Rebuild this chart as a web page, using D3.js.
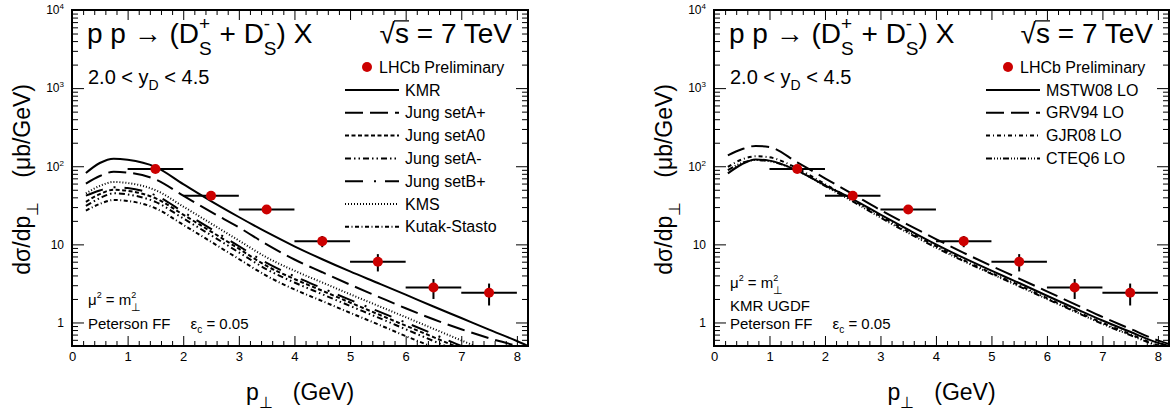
<!DOCTYPE html>
<html>
<head>
<meta charset="utf-8">
<title>Ds meson pT spectra</title>
<style>
  body { margin: 0; background: #fff; }
  svg text { font-family: "Liberation Sans", Arial, Helvetica, sans-serif; fill: #000; white-space: pre; }
  .frame { fill: none; stroke: #000; stroke-width: 2; }
  .axis path { display: none; }
  .axis line { stroke: #000; stroke-width: 1; }
  .axis text { font-size: 13px; }
  .curve { fill: none; stroke: #000; stroke-width: 2; }
</style>
</head>
<body>
<svg id="canvas" width="1176" height="417"></svg>
<script src="https://cdn.jsdelivr.net/npm/d3@7"></script>
<script>
// transverse momentum grid of the model curves (GeV)
const pT = [0.25, 0.5, 0.75, 1, 1.5, 2, 2.5, 3, 3.5, 4, 4.5, 5, 5.5, 6, 6.5, 7, 7.5, 8, 8.2];

// left panel: different UGDFs
const kmr         = [82, 110, 125, 121, 98, 59, 35.8, 22.4, 14.3, 9.45, 6.45, 4.5, 3.2, 2.27, 1.6, 1.14, 0.81, 0.58, 0.5];
const jungAplus   = [60, 75, 85, 83, 68, 42, 26, 16.5, 10, 6.4, 4.4, 3.05, 2.15, 1.52, 1.1, 0.82, 0.63, 0.5, 0.45];
const jungA0      = [35, 44, 50, 48.5, 39, 24, 14.6, 8.8, 5.3, 3.6, 2.55, 1.8, 1.28, 0.91, 0.65, 0.46, 0.33, 0.23, 0.2];
const jungAminus  = [31, 39, 45, 43.5, 35, 21.5, 13.1, 7.9, 4.8, 3.25, 2.3, 1.63, 1.16, 0.82, 0.58, 0.41, 0.29, 0.21, 0.18];
const jungBplus   = [42, 49, 54, 52.5, 42.5, 26, 15.8, 9.5, 5.8, 3.9, 2.75, 1.95, 1.4, 1.0, 0.71, 0.5, 0.36, 0.26, 0.22];
const kms         = [45, 56, 63, 61, 49.5, 30.5, 18.5, 11.2, 6.8, 4.6, 3.25, 2.3, 1.64, 1.17, 0.83, 0.59, 0.42, 0.3, 0.26];
const kutakStasto = [27, 33, 37, 36, 29, 17.8, 10.8, 6.5, 3.95, 2.65, 1.88, 1.33, 0.95, 0.67, 0.48, 0.34, 0.24, 0.17, 0.15];

// right panel: KMR UGDF with different collinear PDFs
const mstw08 = [81, 106, 122, 118, 88, 57, 38, 24, 15.4, 10, 6.7, 4.6, 3.2, 2.2, 1.52, 1.06, 0.76, 0.55, 0.5];
const grv94  = [138, 165, 182, 176, 112, 70, 44, 27.5, 17.8, 11.7, 7.8, 5.3, 3.65, 2.5, 1.72, 1.18, 0.83, 0.59, 0.53];
const gjr08  = [98, 122, 134, 130, 94, 59, 37, 23, 14.6, 9.5, 6.3, 4.3, 3.0, 2.05, 1.42, 0.99, 0.71, 0.51, 0.46];
const cteq6  = [89, 110, 120, 116, 88, 56, 35.5, 22, 14, 9.1, 6.1, 4.2, 2.9, 2.0, 1.38, 0.96, 0.69, 0.5, 0.45];

// LHCb preliminary points
const lhcbPt   = [1.5, 2.5, 3.5, 4.5, 5.5, 6.5, 7.5];
const lhcbXsec = [92, 42, 28, 11, 6, 2.8, 2.4];
const lhcbErr  = [8, 4, 3, 1.8, 1.5, 0.8, 0.75];
const binHalf  = 0.5;

const xMajor = [0, 1, 2, 3, 4, 5, 6, 7, 8];
const yMajor = [1, 10, 100, 1000, 10000];

const leftSeries = [
  { name: "KMR", values: kmr, dash: null },
  { name: "Jung setA+", values: jungAplus, dash: "18 7" },
  { name: "Jung setA0", values: jungA0, dash: "4 2.5" },
  { name: "Jung setA-", values: jungAminus, dash: "6 3 1.5 3 1.5 3" },
  { name: "Jung setB+", values: jungBplus, dash: "18 11 2 9" },
  { name: "KMS", values: kms, dash: "1 2" },
  { name: "Kutak-Stasto", values: kutakStasto, dash: "4 2.5 1 2.5" }
];
const rightSeries = [
  { name: "MSTW08 LO", values: mstw08, dash: null },
  { name: "GRV94 LO", values: grv94, dash: "18 7" },
  { name: "GJR08 LO", values: gjr08, dash: "4 3 1 3" },
  { name: "CTEQ6 LO", values: cteq6, dash: "6 2 1 2 1 2 1 2" }
];

const yTop = 10, yBottom = 346;
const svg = d3.select("#canvas");

// text made of pieces with sub/superscripts; stack:true puts a piece under the previous one
function rich(parent, X, Y, parts, anchor, rot) {
  const g = parent.append("g");
  const inner = g.append("g");
  let cur = 0, base = 0;
  parts.forEach(p => {
    if (p.gap) { cur += p.gap; return; }
    const x0 = p.stack ? base : cur;
    const t = inner.append("text").attr("x", x0).attr("y", p.dy || 0)
      .style("font-size", p.fs + "px").text(p.t);
    const w = t.node().getComputedTextLength();
    if (p.over) {
      inner.append("line").attr("x1", x0 - 1).attr("x2", x0 + w)
        .attr("y1", -p.fs * 0.79).attr("y2", -p.fs * 0.79)
        .attr("stroke", "#000").attr("stroke-width", 1.3);
    }
    if (p.stack) cur = Math.max(cur, x0 + w);
    else { base = x0; cur = x0 + w; }
  });
  const shift = anchor === "end" ? -cur : anchor === "middle" ? -cur / 2 : 0;
  inner.attr("transform", "translate(" + shift + ",0)");
  g.attr("transform", "translate(" + X + "," + Y + ")" + (rot ? " rotate(" + rot + ")" : ""));
  return g;
}

function drawPanel(cfg, idx) {
  const x = d3.scaleLinear().domain([0, 8.2]).range([cfg.left, cfg.right]);
  const y = d3.scaleLog().domain([0.5, 1e4]).range([yBottom, yTop]);
  const g = svg.append("g");

  const clipId = "clip" + idx;
  svg.append("clipPath").attr("id", clipId).append("rect")
    .attr("x", cfg.left).attr("y", yTop).attr("width", cfg.right - cfg.left).attr("height", yBottom - yTop);

  const line = d3.line().x(d => x(d[0])).y(d => y(d[1])).curve(d3.curveMonotoneX);
  g.append("g").attr("clip-path", "url(#" + clipId + ")")
    .selectAll("path").data(cfg.series).enter().append("path")
    .attr("class", "curve")
    .attr("stroke-dasharray", s => s.dash)
    .attr("d", s => line(pT.map((p, i) => [p, s.values[i]])));

  // LHCb points
  const pts = lhcbPt.map((p, i) => ({ p: p, v: lhcbXsec[i], e: lhcbErr[i] }));
  const pg = g.append("g");
  pg.selectAll(".hbar").data(pts).enter().append("line")
    .attr("x1", d => x(d.p - binHalf)).attr("x2", d => x(d.p + binHalf))
    .attr("y1", d => y(d.v)).attr("y2", d => y(d.v))
    .attr("stroke", "#000").attr("stroke-width", 2);
  pg.selectAll(".vbar").data(pts).enter().append("line")
    .attr("x1", d => x(d.p)).attr("x2", d => x(d.p))
    .attr("y1", d => y(d.v - d.e)).attr("y2", d => y(d.v + d.e))
    .attr("stroke", "#000").attr("stroke-width", 2);
  pg.selectAll("circle").data(pts).enter().append("circle")
    .attr("cx", d => x(d.p)).attr("cy", d => y(d.v)).attr("r", 5)
    .attr("fill", "#cc0000");

  // axes, ROOT style ticks inside on all four sides
  const xMinor = d3.range(0, 8.21, 0.2).filter(v => Math.abs(v - Math.round(v)) > 1e-6);
  const yMinor = [];
  [0.1, 1, 10, 100, 1000].forEach(dec => {
    for (let k = 2; k <= 9; k++) { const v = k * dec; if (v >= 0.5 && v < 1e4) yMinor.push(v); }
  });

  g.append("g").attr("class", "axis").attr("transform", "translate(0," + yBottom + ")")
    .call(d3.axisBottom(x).tickValues(xMajor).tickSize(-10).tickPadding(6).tickFormat(d3.format("d")));
  g.append("g").attr("class", "axis").attr("transform", "translate(0," + yBottom + ")")
    .call(d3.axisBottom(x).tickValues(xMinor).tickSize(-5).tickFormat(""));
  g.append("g").attr("class", "axis").attr("transform", "translate(0," + yTop + ")")
    .call(d3.axisTop(x).tickValues(xMajor).tickSize(-10).tickFormat(""));
  g.append("g").attr("class", "axis").attr("transform", "translate(0," + yTop + ")")
    .call(d3.axisTop(x).tickValues(xMinor).tickSize(-5).tickFormat(""));

  const yAx = g.append("g").attr("class", "axis").attr("transform", "translate(" + cfg.left + ",0)")
    .call(d3.axisLeft(y).tickValues(yMajor).tickSize(-12).tickPadding(8).tickFormat(""));
  g.append("g").attr("class", "axis").attr("transform", "translate(" + cfg.left + ",0)")
    .call(d3.axisLeft(y).tickValues(yMinor).tickSize(-6).tickFormat(""));
  g.append("g").attr("class", "axis").attr("transform", "translate(" + cfg.right + ",0)")
    .call(d3.axisRight(y).tickValues(yMajor).tickSize(-12).tickFormat(""));
  g.append("g").attr("class", "axis").attr("transform", "translate(" + cfg.right + ",0)")
    .call(d3.axisRight(y).tickValues(yMinor).tickSize(-6).tickFormat(""));

  yAx.selectAll(".tick text").each(function (d) {
    const t = d3.select(this).style("font-size", "12px");
    const e = Math.round(Math.log10(d));
    if (e <= 1) t.text(e === 0 ? "1" : "10");
    else {
      t.append("tspan").text("10");
      t.append("tspan").attr("dy", -5).style("font-size", "8px").text(e);
    }
  });

  g.append("rect").attr("class", "frame")
    .attr("x", cfg.left).attr("y", yTop).attr("width", cfg.right - cfg.left).attr("height", yBottom - yTop);

  // headline
  rich(g, cfg.left + 15, 43, [
    { t: "p p \u2192 (D", fs: 28 },
    { t: "+", fs: 19, dy: -13 },
    { t: "S", fs: 19, dy: 12, stack: true },
    { t: " + D", fs: 28 },
    { t: "-", fs: 19, dy: -13 },
    { t: "S", fs: 19, dy: 12, stack: true },
    { t: ") X", fs: 28 }
  ]);
  rich(g, cfg.right - 16, 43, [
    { t: "\u221A", fs: 28 },
    { t: "s", fs: 28, over: true },
    { t: " = 7 TeV", fs: 28 }
  ], "end");
  rich(g, cfg.left + 16, 84, [
    { t: "2.0 < y", fs: 20 },
    { t: "D", fs: 14, dy: 6 },
    { t: " < 4.5", fs: 20 }
  ]);

  // legend
  const lg = g.append("g");
  lg.append("circle").attr("cx", cfg.right - 161).attr("cy", 67).attr("r", 5).attr("fill", "#cc0000");
  lg.append("text").attr("x", cfg.right - 149).attr("y", 72.5).style("font-size", "16px").text("LHCb Preliminary");
  const rowY = i => 90 + i * 22.8;
  lg.selectAll(".lgline").data(cfg.series).enter().append("line")
    .attr("class", "curve")
    .attr("x1", cfg.right - 183).attr("x2", cfg.right - 129)
    .attr("y1", (s, i) => rowY(i)).attr("y2", (s, i) => rowY(i))
    .attr("stroke-dasharray", s => s.dash);
  lg.selectAll(".lgtext").data(cfg.series).enter().append("text")
    .attr("x", cfg.right - 123).attr("y", (s, i) => rowY(i) + 5.5)
    .style("font-size", "16px").text(s => s.name);

  // notes in lower left corner
  cfg.notes.forEach(n => rich(g, cfg.left + 16, n.y, n.parts));

  // axis titles
  rich(g, (cfg.left + cfg.right) / 2, 400, [
    { t: "p", fs: 23 },
    { t: "\u22A5", fs: 16, dy: 8 },
    { gap: 20 },
    { t: "(GeV)", fs: 23 }
  ], "middle");
  rich(g, cfg.left - 42, 84, [
    { t: "d\u03C3/dp", fs: 23 },
    { t: "\u22A5", fs: 16, dy: 8 },
    { gap: 24 },
    { t: "(\u03BCb/GeV)", fs: 23 }
  ], "end", -90);
}

const muLine = [
  { t: "\u03BC", fs: 15 }, { t: "2", fs: 9, dy: -7 }, { t: " = m", fs: 15 },
  { t: "2", fs: 9, dy: -7 }, { t: "\u22A5", fs: 11, dy: 6, stack: true }
];
const petLine = [
  { t: "Peterson FF", fs: 15 }, { gap: 20 }, { t: "\u03B5", fs: 15 },
  { t: "c", fs: 10, dy: 4 }, { t: " = 0.05", fs: 15 }
];

drawPanel({
  left: 72, right: 528, series: leftSeries,
  notes: [{ y: 305, parts: muLine }, { y: 329, parts: petLine }]
}, 0);
drawPanel({
  left: 714, right: 1169, series: rightSeries,
  notes: [{ y: 288, parts: muLine }, { y: 311, parts: [{ t: "KMR UGDF", fs: 15 }] }, { y: 329, parts: petLine }]
}, 1);
</script>
</body>
</html>
